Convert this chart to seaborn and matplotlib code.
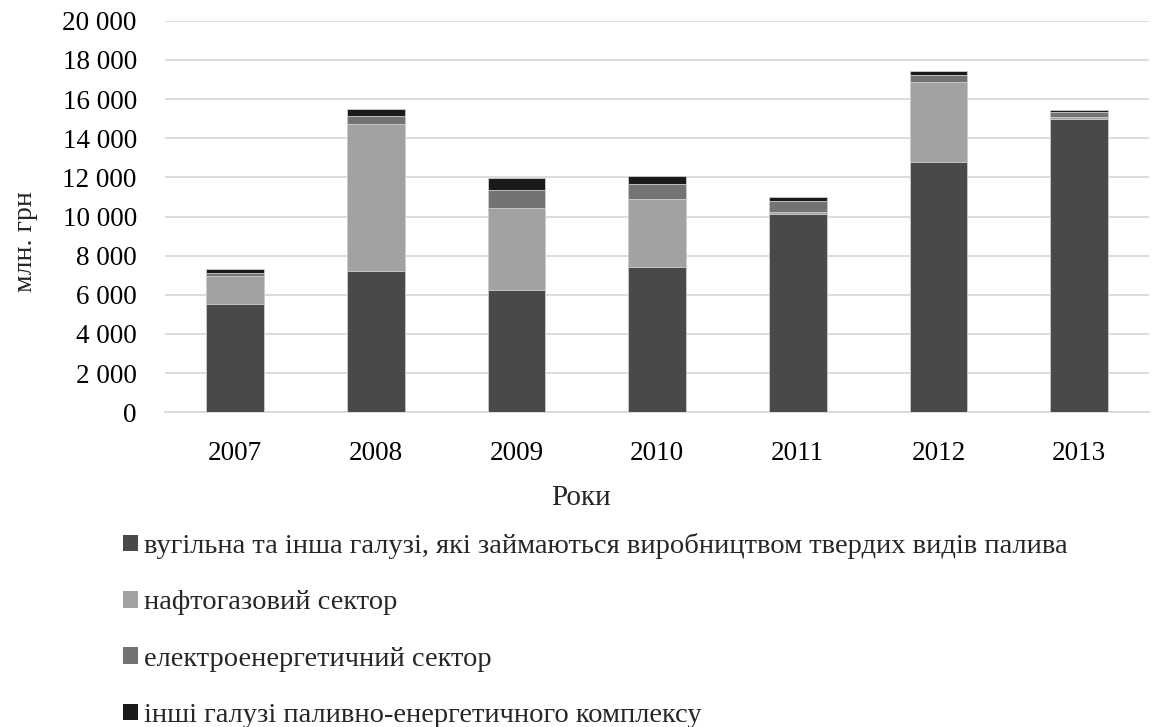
import matplotlib
matplotlib.use("Agg")
import matplotlib.pyplot as plt
import seaborn as sns
import numpy as np
from matplotlib.patches import Patch
from matplotlib.ticker import FuncFormatter

years = ["2007", "2008", "2009", "2010", "2011", "2012", "2013"]
coal = [5520, 7230, 6260, 7420, 10150, 12800, 14970]
oil_gas = [1450, 7500, 4190, 3470, 85, 4070, 100]
electro = [120, 390, 905, 750, 580, 340, 255]
other = [240, 390, 615, 430, 190, 220, 105]

labels = [
    "вугільна та інша галузі, які займаються виробництвом твердих видів палива",
    "нафтогазовий сектор",
    "електроенергетичний сектор",
    "інші галузі паливно-енергетичного комплексу",
]
colors = ["#494949", "#a2a2a2", "#737373", "#1a1a1a"]

sns.set_theme(style="white")
plt.rcParams["font.family"] = ["Liberation Serif", "DejaVu Serif"]

fig = plt.figure(figsize=(11.57, 7.27), dpi=100)
ax = fig.add_axes([0.1423, 0.4329, 0.8512, 0.5386])

layers = [coal, oil_gas, electro, other]
cum = np.cumsum(np.array(layers), axis=0)
for i in range(len(layers) - 1, -1, -1):
    sns.barplot(x=years, y=cum[i], color=colors[i], width=0.41, ax=ax,
                edgecolor="#d0d0d0", linewidth=0.6, saturation=1, zorder=3)

ax.set_ylim(0, 20000)
ax.set_yticks(np.arange(0, 20001, 2000))
ax.yaxis.set_major_formatter(FuncFormatter(lambda v, p: f"{int(v):,}".replace(",", " ")))
ax.grid(axis="y", color="#d9d9d9", linewidth=1.3, zorder=0)
ax.grid(axis="x", visible=False)
for s in ["left", "right", "top"]:
    ax.spines[s].set_visible(False)
ax.spines["bottom"].set_color("#d9d9d9")
ax.spines["bottom"].set_linewidth(1.3)
ax.tick_params(axis="y", length=0, pad=20, labelsize=19.5, colors="#000000")
ax.tick_params(axis="x", length=0, pad=21, labelsize=19.5, colors="#000000")
ax.set_xlabel("")
ax.set_ylabel("")

fig.text(25 / 1157, 1 - 242 / 727, "млн. грн", rotation=90, ha="center", va="center", fontsize=20)
fig.text(581 / 1157, 1 - 505 / 727, "Роки", ha="center", va="baseline", fontsize=21)

handles = [Patch(facecolor=c, edgecolor="none") for c in colors]
fig.legend(handles, labels, loc="upper left", bbox_to_anchor=(123 / 1157, 1 - 533 / 727),
           frameon=False, fontsize=20.5, handlelength=0.52, handleheight=0.52,
           handletextpad=0.22, labelspacing=1.1, borderaxespad=0, borderpad=0)

fig.savefig("out.png", dpi=100, facecolor="white")
